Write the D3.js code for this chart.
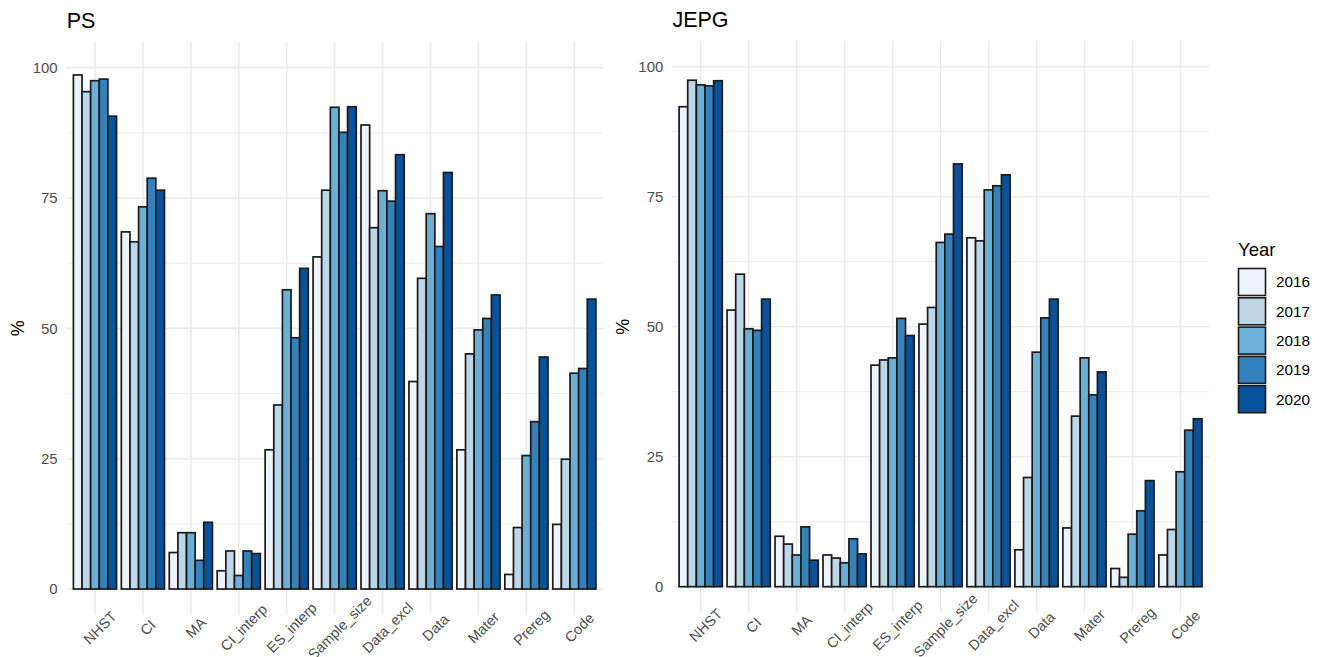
<!DOCTYPE html>
<html>
<head>
<meta charset="utf-8">
<script src="https://cdn.jsdelivr.net/npm/d3@7.9.0/dist/d3.min.js"></script>
<style>
  body { margin: 0; background: #fff; }
  svg text { font-family: "Liberation Sans", Arial, sans-serif; }
</style>
</head>
<body>
<svg id="chart" width="1324" height="657"></svg>
<script>
const categories = ["NHST", "CI", "MA", "CI_interp", "ES_interp", "Sample_size", "Data_excl", "Data", "Mater", "Prereg", "Code"];
const years = ["2016", "2017", "2018", "2019", "2020"];
const yTicks = [0, 25, 50, 75, 100];
const yMinor = [12.5, 37.5, 62.5, 87.5];

// PS, one array per year, in category order
const ps2016 = [98.6, 68.5, 7.0, 3.5, 26.7, 63.7, 89.0, 39.8, 26.7, 2.8, 12.4];
const ps2017 = [95.4, 66.6, 10.8, 7.3, 35.3, 76.5, 69.3, 59.6, 45.1, 11.8, 24.9];
const ps2018 = [97.5, 73.3, 10.8, 2.6, 57.4, 92.4, 76.4, 72.0, 49.7, 25.6, 41.4];
const ps2019 = [97.8, 78.8, 5.5, 7.3, 48.2, 87.6, 74.4, 65.7, 51.9, 32.1, 42.3];
const ps2020 = [90.7, 76.5, 12.8, 6.8, 61.5, 92.5, 83.3, 79.9, 56.4, 44.5, 55.6];

// JEPG
const jepg2016 = [92.3, 53.2, 9.7, 6.1, 42.6, 50.5, 67.1, 7.1, 11.3, 3.5, 6.1];
const jepg2017 = [97.4, 60.1, 8.2, 5.5, 43.6, 53.7, 66.5, 21.0, 32.8, 1.8, 11.0];
const jepg2018 = [96.5, 49.6, 6.1, 4.6, 44.0, 66.2, 76.3, 45.1, 44.0, 10.1, 22.1];
const jepg2019 = [96.3, 49.3, 11.5, 9.2, 51.6, 67.8, 77.1, 51.7, 36.9, 14.6, 30.1];
const jepg2020 = [97.3, 55.3, 5.1, 6.3, 48.3, 81.3, 79.2, 55.3, 41.3, 20.4, 32.3];

const colors = d3.scaleOrdinal()
  .domain(years)
  .range(["#EFF3FF", "#BDD7E7", "#6BAED6", "#3182BD", "#08519C"]);

const svg = d3.select("#chart");

function drawPanel(title, series, box) {
  const rows = [];
  series.forEach((vals, j) => {
    vals.forEach((v, i) => rows.push({ cat: categories[i], year: years[j], value: v }));
  });

  const x = d3.scaleBand().domain(categories).range([box.left, box.right])
    .paddingInner(0).paddingOuter(0.1);
  const y = d3.scaleLinear().domain([-5, 105]).range([box.bottom, box.top]);
  const xInner = d3.scaleBand().domain(years)
    .range([-0.45 * x.step(), 0.45 * x.step()]);

  const g = svg.append("g");

  // grid
  g.selectAll(".minor").data(yMinor).join("line")
    .attr("x1", box.left).attr("x2", box.right)
    .attr("y1", d => y(d)).attr("y2", d => y(d))
    .attr("stroke", "#f0f0f0").attr("stroke-width", 1.2);
  g.selectAll(".major").data(yTicks).join("line")
    .attr("x1", box.left).attr("x2", box.right)
    .attr("y1", d => y(d)).attr("y2", d => y(d))
    .attr("stroke", "#ebebeb").attr("stroke-width", 1.6);
  g.selectAll(".vgrid").data(categories).join("line")
    .attr("x1", d => x(d) + x.bandwidth() / 2).attr("x2", d => x(d) + x.bandwidth() / 2)
    .attr("y1", box.top).attr("y2", box.bottom)
    .attr("stroke", "#ebebeb").attr("stroke-width", 1.6);

  // bars
  g.selectAll("rect.bar").data(rows).join("rect")
    .attr("class", "bar")
    .attr("x", d => x(d.cat) + x.bandwidth() / 2 + xInner(d.year))
    .attr("width", xInner.bandwidth())
    .attr("y", d => y(d.value))
    .attr("height", d => y(0) - y(d.value))
    .attr("fill", d => colors(d.year))
    .attr("stroke", "#1a1a1a")
    .attr("stroke-width", 1.7);

  // y axis
  const yAxis = g.append("g")
    .attr("transform", `translate(${box.left},0)`)
    .call(d3.axisLeft(y).tickValues(yTicks).tickSize(0).tickPadding(8.5));
  yAxis.select(".domain").remove();
  yAxis.selectAll("text").attr("font-size", 15).attr("fill", "#4d4d4d");

  // x axis
  const xAxis = g.append("g")
    .attr("transform", `translate(0,${box.bottom})`)
    .call(d3.axisBottom(x).tickSize(0));
  xAxis.select(".domain").remove();
  xAxis.selectAll("text")
    .attr("y", 0).attr("dy", "0.35em")
    .attr("text-anchor", "middle")
    .attr("transform", "translate(5,12.5) rotate(-45)")
    .attr("font-size", 14.5).attr("fill", "#4d4d4d");

  // titles
  g.append("text")
    .attr("x", box.left + 0.5).attr("y", box.titleY)
    .attr("font-size", 21.5).attr("fill", "#000")
    .text(title);
  g.append("text")
    .attr("transform", `translate(${box.yLabX},${(box.top + box.bottom) / 2}) rotate(-90)`)
    .attr("text-anchor", "middle").attr("dy", "0.35em")
    .attr("font-size", 18).attr("fill", "#000")
    .text("%");
}

drawPanel("PS", [ps2016, ps2017, ps2018, ps2019, ps2020],
  { left: 66.2, right: 603.1, top: 41.6, bottom: 615.1, titleY: 28.3, yLabX: 18 });
drawPanel("JEPG", [jepg2016, jepg2017, jepg2018, jepg2019, jepg2020],
  { left: 671.9, right: 1209.2, top: 40.7, bottom: 612.7, titleY: 26.7, yLabX: 623 });

// legend
const legend = svg.append("g").attr("transform", "translate(1238,0)");
legend.append("text")
  .attr("x", 0).attr("y", 255.7)
  .attr("font-size", 18.5).attr("fill", "#000")
  .text("Year");
const keys = legend.selectAll("g.key").data(years).join("g")
  .attr("class", "key")
  .attr("transform", (d, i) => `translate(0,${268 + i * 29.3})`);
keys.append("rect")
  .attr("x", 0.5).attr("y", 0.5)
  .attr("width", 27).attr("height", 27)
  .attr("fill", d => colors(d))
  .attr("stroke", "#1a1a1a").attr("stroke-width", 1.6);
keys.append("text")
  .attr("x", 38).attr("y", 14).attr("dy", "0.35em")
  .attr("font-size", 15.3).attr("fill", "#000")
  .text(d => d);
</script>
</body>
</html>
